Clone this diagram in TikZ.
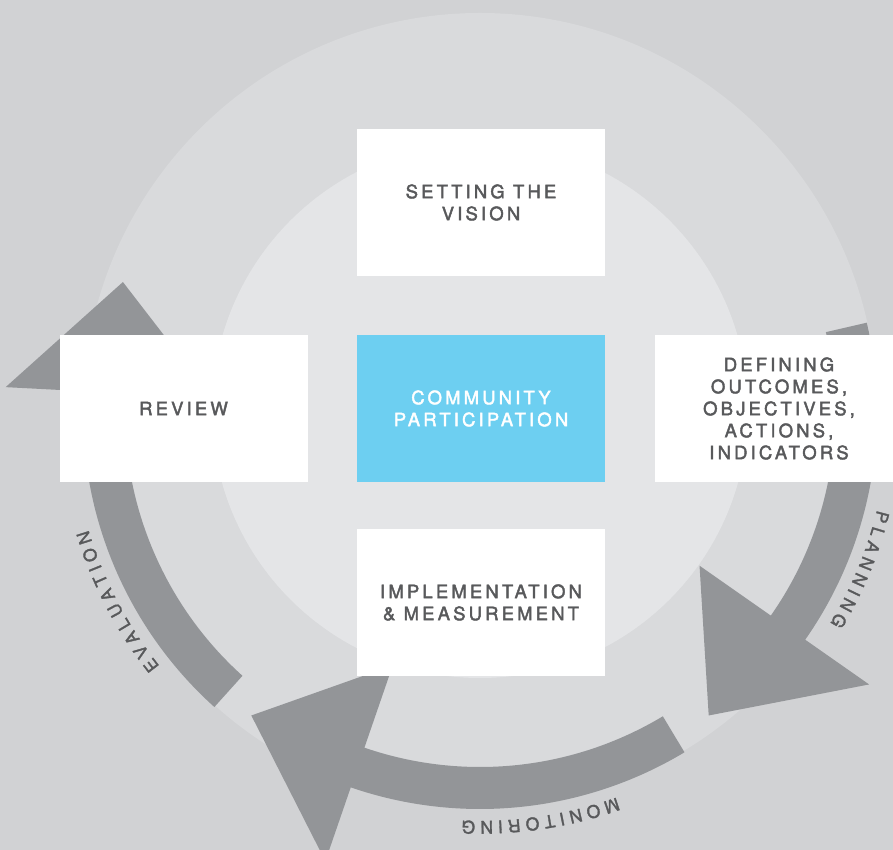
\documentclass[tikz,border=0pt]{standalone}
\usepackage{fontspec}
\usepackage{tikz}
\usetikzlibrary{calc,decorations.text}
\newfontfamily\boxfont{TeX Gyre Heros}[LetterSpace=17,FakeBold=2.2]
\newfontfamily\arcfont{TeX Gyre Heros}[FakeBold=1.8]
\definecolor{bggray}{HTML}{D1D2D4}
\definecolor{ringgray}{HTML}{D9DADC}
\definecolor{coregray}{HTML}{E4E5E7}
\definecolor{arrowgray}{HTML}{939598}
\definecolor{textgray}{HTML}{58595B}
\definecolor{cpblue}{HTML}{6DCFF1}
\tikzset{
	stage/.style={fill=white, minimum width=248pt, minimum height=147pt, inner sep=0pt, align=center, text=textgray, font=\boxfont\fontsize{18.5}{22}\selectfont},
	hub/.style={stage, fill=cpblue, text=white},
}
\def\cyclearrow(#1:#2:#3){\fill[arrowgray] (#1:397) arc[start angle=#1, end angle=#2, radius=397] -- (#2:475) -- (#3:380) -- (#2:268) -- (#2:355) arc[start angle=#2, end angle=#1, radius=355] -- cycle;}
\def\arclabel(#1:#2)#3{\path[decorate, decoration={text along path, text align=center, text color=textgray, text={|\arcfont\fontsize{17.5}{20}\selectfont|#3}}] (#1:409) arc[start angle=#1, end angle=#2, radius=409];}

\begin{document}
\begin{tikzpicture}[x=1pt, y=1pt]
			%%%%% START %%%%%
			\useasboundingbox (0, 0) rectangle (893, 850);
			\clip (0, 0) rectangle (893, 850);
			\fill[bggray] (0, 0) rectangle (893, 850);
			
			\fill[ringgray] (480, 440) circle (397);
			\fill[coregray] (480, 440) circle (268);
			
			\begin{scope}[shift={(480, 438)}]
				% planning, monitoring, evaluation
				\cyclearrow(13:-35:-53)
				\cyclearrow(-59:-109:-127)
				\cyclearrow(228:177:160)
				
				\arclabel(0:-45){P L A N N I N G}
				\arclabel(-56.5:-106.5){M O N I T O R I N G}
				\arclabel(232.6:182.6){E V A L U A T I O N}
			\end{scope}
			
			\node[stage] (vision) at (481, 647.5) {SETTING THE\\VISION};
			\node[hub] (community) at (481, 441.5) {COMMUNITY\\PARTICIPATION};
			\node[stage] (review) at (183.5, 441.5) {REVIEW};
			\node[stage] (defining) at (779, 441.5) {DEFINING\\OUTCOMES,\\OBJECTIVES,\\ACTIONS,\\INDICATORS};
			\node[stage] (implementation) at (481, 247.5) {IMPLEMENTATION\\\& MEASUREMENT};
			%%%%% END %%%%%
\end{tikzpicture}
\end{document}
